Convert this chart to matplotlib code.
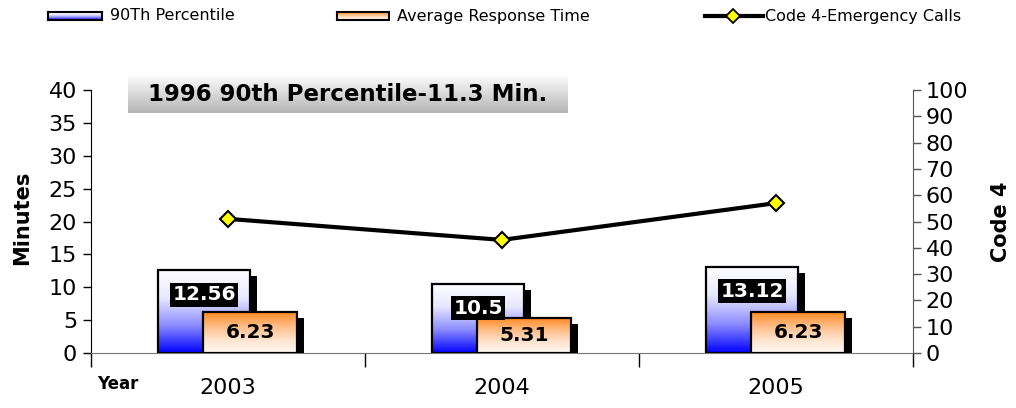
import numpy as np
import matplotlib
matplotlib.use("Agg")
import matplotlib.pyplot as plt
from matplotlib.patches import Rectangle
from matplotlib.colors import LinearSegmentedColormap
import matplotlib.transforms as mtransforms

plt.rcParams['font.family'] = ['DejaVu Sans']

years = ['2003', '2004', '2005']
pct90 = [12.56, 10.5, 13.12]
avg_resp = [6.23, 5.31, 6.23]
code4 = [51, 43, 57]
pct90_labels = ['12.56', '10.5', '13.12']
avg_labels = ['6.23', '5.31', '6.23']

W, H = 1016, 408
fig = plt.figure(figsize=(W / 100, H / 100), dpi=100)
ax = fig.add_axes([91 / W, 1 - 353 / H, (913 - 91) / W, (353 - 90) / H])
ax2 = ax.twinx()

x = np.arange(len(years))

blue_cmap = LinearSegmentedColormap.from_list('b', ['#0000ff', '#8c8cff', '#e8e8ff', '#ffffff'])
orange_cmap = LinearSegmentedColormap.from_list('o', ['#fffaf5', '#ffe2cc', '#ffbb85', '#ff8c22'])
grad = np.linspace(0, 1, 256).reshape(-1, 1)

bw = 0.336
ow = 0.343
b_off = -0.255
o_off = -0.091
shadow = mtransforms.offset_copy(ax.transData, fig=fig, x=7, y=-6, units='dots')


def draw_bar(x0, w, h, cmap, z, top_color=None):
    sh = Rectangle((x0, 0), w, h, facecolor='black', edgecolor='none',
                   transform=shadow, zorder=z, clip_on=True)
    ax.add_patch(sh)
    sh.set_clip_box(ax.bbox)
    ax.imshow(grad, cmap=cmap, extent=(x0, x0 + w, 0, h), origin='lower',
              aspect='auto', zorder=z + 0.1, interpolation='bilinear')
    r = Rectangle((x0, 0), w, h, facecolor='none', edgecolor='black',
                  linewidth=1.6, zorder=z + 0.2)
    ax.add_patch(r)
    if top_color:
        ax.plot([x0, x0 + w], [h, h], color=top_color, lw=1.2, zorder=z + 0.15)


for i in range(len(years)):
    draw_bar(x[i] + b_off, bw, pct90[i], blue_cmap, 2)
    draw_bar(x[i] + o_off, ow, avg_resp[i], orange_cmap, 3, top_color='#ff8c00')

ax.set_xlim(-0.5, len(years) - 0.5)
ax.set_ylim(0, 40)
ax2.set_ylim(0, 100)

for i in range(len(years)):
    ax.annotate(pct90_labels[i], xy=(x[i] + b_off + bw / 2, pct90[i]),
                xytext=(0, -17.5), textcoords='offset points', ha='center', va='center',
                fontsize=14.5, fontweight='bold', color='white', zorder=10,
                bbox=dict(boxstyle='square,pad=0.12', facecolor='black', edgecolor='none'))
    ax.annotate(avg_labels[i], xy=(x[i] + o_off + ow / 2, avg_resp[i] / 2),
                ha='center', va='center', fontsize=14.5, fontweight='bold',
                color='black', zorder=10)

ax2.plot(x, code4, color='black', lw=3, marker='D', markersize=8,
         markerfacecolor='#ffff00', markeredgecolor='black', markeredgewidth=1.5,
         zorder=5)

# axes styling
ax.set_yticks(np.arange(0, 41, 5))
ax2.set_yticks(np.arange(0, 101, 10))
ax.set_xticks(np.arange(-0.5, len(years), 1))
ax.set_xticklabels([])
ax.set_xticks(x, minor=True)
ax.set_xticklabels(years, minor=True, fontsize=16)
ax.tick_params(axis='x', which='major', length=10, width=1, color='black', direction='out')
ax.tick_params(axis='x', which='minor', length=0, pad=18)
ax.tick_params(axis='y', labelsize=16, length=6, width=1, direction='out', pad=4)
ax2.tick_params(axis='y', labelsize=16, length=6, width=1, direction='out', pad=3,
                color='#555555')
ax.spines['top'].set_visible(False)
ax2.spines['top'].set_visible(False)
ax.spines['right'].set_visible(False)
ax2.spines['left'].set_visible(False)
ax2.spines['bottom'].set_visible(False)
ax.spines['bottom'].set_color('#777777')
ax2.spines['right'].set_color('#555555')
ax.spines['left'].set_color('black')

ax.set_ylabel('Minutes', fontsize=15, fontweight='bold')
ax.yaxis.set_label_coords(-0.072, 0.513)
ax2.set_ylabel('Code 4', fontsize=15, fontweight='bold')
ax2.yaxis.set_label_coords(1.095, 0.5)
fig.text(97 / W, 1 - 384 / H, 'Year', fontsize=12, fontweight='bold', va='center', ha='left')

# title box with gradient
tax = fig.add_axes([128 / W, 1 - 113 / H, (568 - 128) / W, (113 - 74) / H])
gray_cmap = LinearSegmentedColormap.from_list('g', ['#b4b4b4', '#ffffff'])
tax.imshow(grad, cmap=gray_cmap, extent=(0, 1, 0, 1), origin='lower', aspect='auto')
tax.set_xlim(0, 1)
tax.set_ylim(0, 1)
tax.axis('off')
tax.text(0.5, 0.48, '1996 90th Percentile-11.3 Min.', ha='center', va='center',
         fontsize=16.5, fontweight='bold')


# legend
def leg_patch(x0, x1, cmap):
    lax = fig.add_axes([x0 / W, 1 - 20 / H, (x1 - x0) / W, 8 / H])
    g = np.linspace(0, 1, 50).reshape(-1, 1)
    lax.imshow(g, cmap=cmap, extent=(0, 1, 0, 1), origin='lower', aspect='auto')
    lax.set_xticks([])
    lax.set_yticks([])
    for s in lax.spines.values():
        s.set_linewidth(1.5)
        s.set_color('black')


leg_patch(48, 102, blue_cmap)
fig.text(110 / W, 1 - 16 / H, '90Th Percentile', fontsize=11.5, va='center', ha='left')
leg_patch(337, 389, orange_cmap)
fig.text(397 / W, 1 - 16 / H, 'Average Response Time', fontsize=11.5, va='center', ha='left')
fig.add_artist(plt.Line2D([705 / W, 763 / W], [1 - 16 / H, 1 - 16 / H], color='black', lw=3,
                          transform=fig.transFigure))
fig.add_artist(plt.Line2D([733 / W], [1 - 16 / H], marker='D', markersize=7,
                          markerfacecolor='#ffff00', markeredgecolor='black',
                          markeredgewidth=1.3, transform=fig.transFigure))
fig.text(765 / W, 1 - 16 / H, 'Code 4-Emergency Calls', fontsize=11.5, va='center', ha='left')

fig.savefig('out.png', dpi=100)
